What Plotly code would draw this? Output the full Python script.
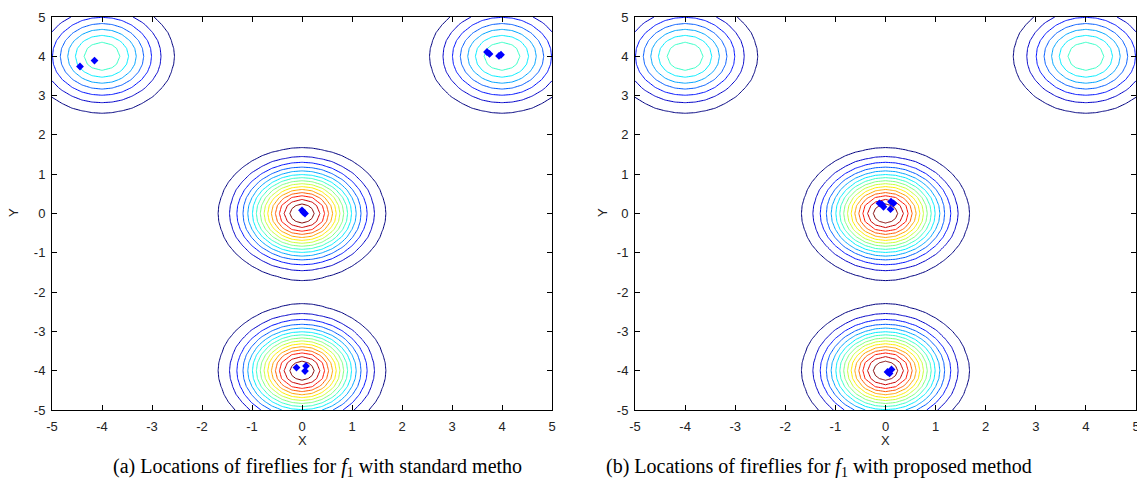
import numpy as np
import plotly.graph_objects as go

# Peaks of the multimodal test function f1 (centres and heights)
peak_x = [0.0, 0.0, -4.0, 4.0]
peak_y = [0.0, -4.0, 4.0, 4.0]
peak_h = [2.0, 2.0, 1.0, 1.0]

# Contour levels drawn
level_start, level_end, level_step = 0.125, 1.875, 0.125

# Firefly locations, standard method (a)
std_x = [-4.44, -4.15, 3.70, 3.75, 3.94, 3.98, 0.00, 0.03, 0.06, -0.11, 0.08, 0.06]
std_y = [3.74, 3.89, 4.11, 4.06, 4.01, 4.04, 0.08, 0.03, 0.00, -3.92, -3.88, -4.01]

# Firefly locations, proposed method (b)
prop_x = [-0.12, -0.07, -0.04, 0.11, 0.16, 0.10, 0.04, 0.12, 0.08]
prop_y = [0.26, 0.23, 0.17, 0.30, 0.26, 0.11, -4.03, -3.97, -4.07]

tick_vals = [-5, -4, -3, -2, -1, 0, 1, 2, 3, 4, 5]
tick_text = ["-5", "-4", "-3", "-2", "-1", "0", "1", "2", "3", "4", "5"]

captions = [
    "(a) Locations of fireflies for <i>f</i><sub>1</sub> with standard metho",
    "(b) Locations of fireflies for <i>f</i><sub>1</sub> with proposed method",
]

# Sampling grid for the surface
gx = np.linspace(-5, 5, 51)
gy = np.linspace(-5, 5, 51)
X, Y = np.meshgrid(gx, gy)
Z = np.zeros_like(X)
for px, py, h in zip(peak_x, peak_y, peak_h):
    Z += h * np.exp(-(X - px) ** 2 - (Y - py) ** 2)

jet = [
    [0.0, "rgb(0,0,128)"],
    [0.125, "rgb(0,0,255)"],
    [0.375, "rgb(0,255,255)"],
    [0.625, "rgb(255,255,0)"],
    [0.875, "rgb(255,0,0)"],
    [1.0, "rgb(128,0,0)"],
]

fig = go.Figure()
for i, (mx, my) in enumerate([(std_x, std_y), (prop_x, prop_y)]):
    xa = "x" if i == 0 else "x2"
    ya = "y" if i == 0 else "y2"
    fig.add_trace(go.Contour(
        x=gx, y=gy, z=Z, xaxis=xa, yaxis=ya,
        colorscale=jet, zauto=False, zmin=0, zmax=2,
        contours=dict(start=level_start, end=level_end, size=level_step,
                      coloring="lines"),
        line=dict(width=1, smoothing=0),
        showscale=False, hoverinfo="skip",
    ))
    fig.add_trace(go.Scatter(
        x=mx, y=my, xaxis=xa, yaxis=ya, mode="markers",
        marker=dict(symbol="diamond", size=6, color="rgb(0,0,255)"),
        showlegend=False,
    ))

W, H = 1137, 486
axis_common = dict(
    range=[-5, 5], tickvals=tick_vals, ticktext=tick_text,
    showgrid=False, zeroline=False, showline=True, linecolor="black",
    linewidth=1, mirror="allticks", ticks="inside", ticklen=5,
    tickcolor="black", automargin=False, ticklabeloverflow="allow",
    tickfont=dict(family="Liberation Sans, Arial", size=13, color="#222"),
)
y_dom = [(H - 410) / H, (H - 17) / H]
fig.update_layout(
    width=W, height=H, margin=dict(l=0, r=0, t=0, b=0),
    paper_bgcolor="white", plot_bgcolor="white", showlegend=False,
    xaxis=dict(domain=[52 / W, 552 / W], anchor="y", ticklabelstandoff=4,
               **axis_common),
    yaxis=dict(domain=y_dom, anchor="x", ticklabelstandoff=3, **axis_common),
    xaxis2=dict(domain=[635 / W, 1136 / W], anchor="y2", ticklabelstandoff=4,
                **axis_common),
    yaxis2=dict(domain=y_dom, anchor="x2", ticklabelstandoff=3, **axis_common),
)

label_font = dict(family="Liberation Sans, Arial", size=13, color="#222")
ann = []
for cx, ylx in [(302, 14), (885, 603)]:
    ann.append(dict(x=cx / W, y=1 - 440 / H, xref="paper", yref="paper",
                    xanchor="center", yanchor="middle",
                    text="X", showarrow=False, font=label_font))
    ann.append(dict(x=ylx / W, y=1 - 213 / H, xref="paper", yref="paper",
                    xanchor="center", yanchor="middle",
                    text="Y", showarrow=False, textangle=-90, font=label_font))
for cx, txt in zip([317, 819], captions):
    ann.append(dict(x=cx / W, y=1 - 467 / H, xref="paper", yref="paper",
                    xanchor="center", yanchor="middle",
                    text=txt, showarrow=False,
                    font=dict(family="Liberation Serif, Times New Roman",
                              size=20, color="black")))
fig.update_layout(annotations=ann)

fig.write_html("out.html")
